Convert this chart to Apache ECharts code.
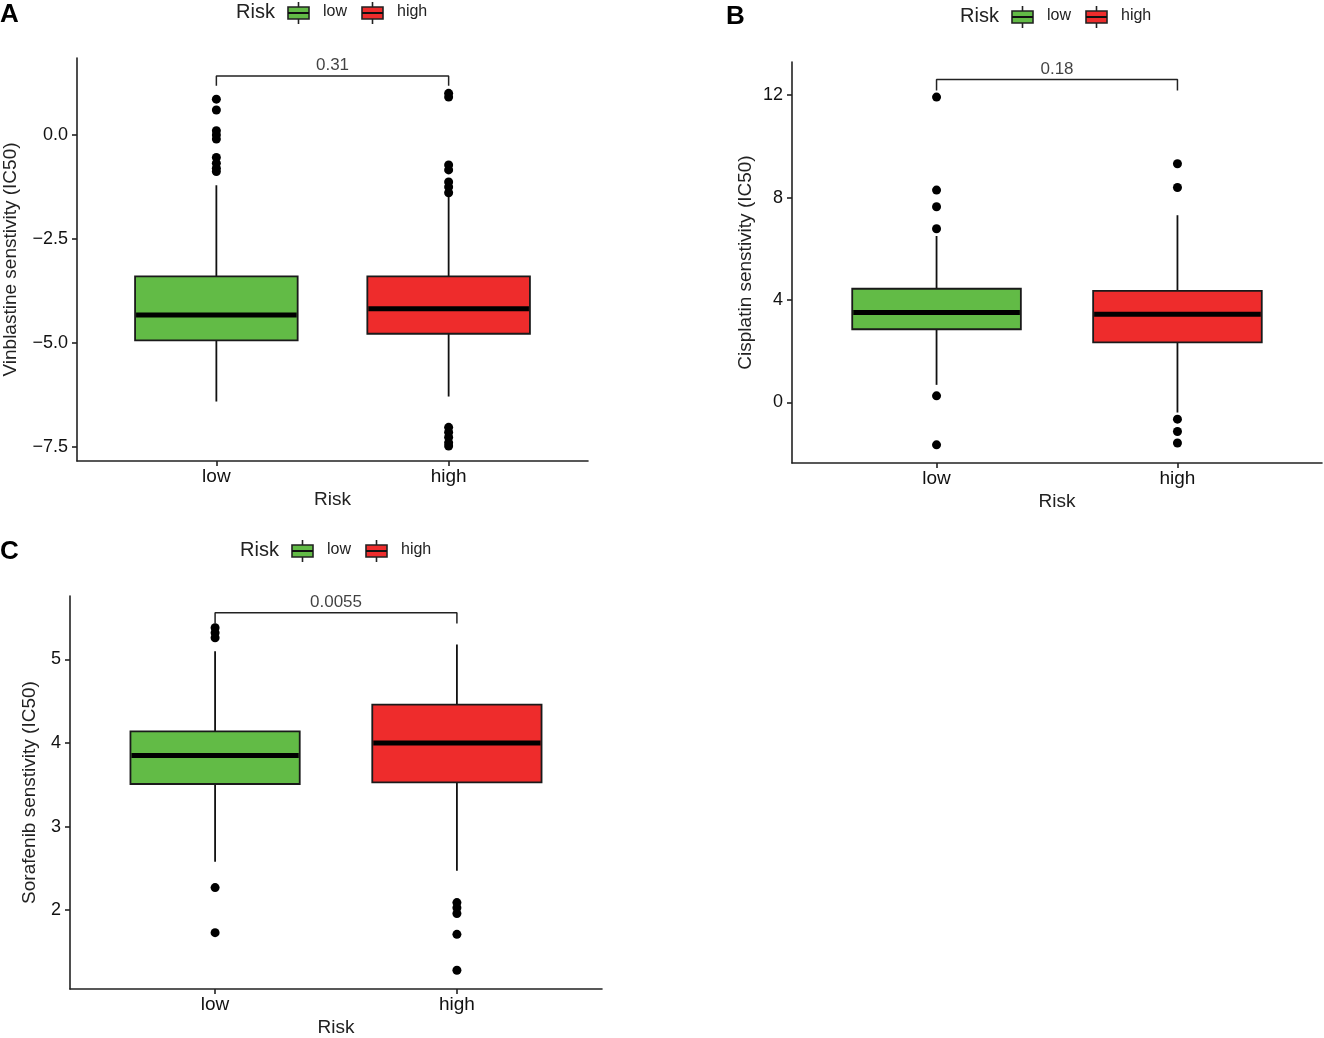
<!DOCTYPE html>
<html>
<head>
<meta charset="utf-8">
<script src="https://cdn.jsdelivr.net/npm/echarts@6/dist/echarts.min.js"></script>
<style>
html, body { margin: 0; padding: 0; background: #fff; }
#main { width: 1324px; height: 1038px; }
</style>
</head>
<body>
<div id="main"></div>
<script>
// categories and values
var categories = ['low', 'high'];
var boxColors = ['#62BB46', '#EE2C2C'];

// box stats: [min whisker, Q1, median, Q3, max whisker]
var vinLowBox  = [-6.41, -4.94, -4.33, -3.40, -1.21];
var vinHighBox = [-6.29, -4.78, -4.18, -3.40, -1.49];
var vinLowOut  = [0.86, 0.60, 0.10, 0.0, -0.10, -0.54, -0.68, -0.80, -0.88];
var vinHighOut = [1.00, 0.91, -0.72, -0.84, -1.13, -1.25, -1.39, -7.03, -7.15, -7.27, -7.40, -7.48];
var vinTicks = [-7.5, -5, -2.5, 0];

var cisLowBox  = [0.69, 2.86, 3.51, 4.44, 6.50];
var cisHighBox = [-0.39, 2.35, 3.45, 4.36, 7.31];
var cisLowOut  = [11.92, 8.29, 7.64, 6.78, 0.26, -1.65];
var cisHighOut = [9.32, 8.39, -0.65, -1.13, -1.58];
var cisTicks = [0, 4, 8, 12];

var sorLowBox  = [2.58, 3.51, 3.85, 4.14, 5.10];
var sorHighBox = [2.47, 3.53, 4.00, 4.46, 5.18];
var sorLowOut  = [5.38, 5.32, 5.26, 2.27, 1.73];
var sorHighOut = [2.09, 2.03, 1.96, 1.71, 1.28];
var sorTicks = [2, 3, 4, 5];

var pValues = ['0.31', '0.18', '0.0055'];
var bracketTop  = [1.42, 12.61, 5.56];
var bracketDrop = [1.18, 12.18, 5.43];

var panels = [
  { name: 'Vinblastine senstivity (IC50)', low: vinLowBox, high: vinHighBox, lowOut: vinLowOut, highOut: vinHighOut,
    ticks: vinTicks, min: -7.84, max: 1.85, dec: 1,
    grid: { left: 77, top: 58, width: 511, height: 403 }, nameGap: 57 },
  { name: 'Cisplatin senstivity (IC50)', low: cisLowBox, high: cisHighBox, lowOut: cisLowOut, highOut: cisHighOut,
    ticks: cisTicks, min: -2.36, max: 13.29, dec: 0,
    grid: { left: 792, top: 62, width: 530, height: 401 }, nameGap: 37 },
  { name: 'Sorafenib senstivity (IC50)', low: sorLowBox, high: sorHighBox, lowOut: sorLowOut, highOut: sorHighOut,
    ticks: sorTicks, min: 1.056, max: 5.76, dec: 0,
    grid: { left: 70, top: 596, width: 532, height: 396 }, nameGap: 31 }
];

function renderBox(params, api) {
  var x = api.value(0);
  var lo = api.coord([x, api.value(1)]);
  var q1 = api.coord([x, api.value(2)]);
  var md = api.coord([x, api.value(3)]);
  var q3 = api.coord([x, api.value(4)]);
  var hi = api.coord([x, api.value(5)]);
  var half = api.size([0.35, 0])[0];
  var color = api.visual('color');
  var ln = { stroke: '#111', lineWidth: 1.8 };
  return {
    type: 'group',
    children: [
      { type: 'line', shape: { x1: lo[0], y1: lo[1], x2: q1[0], y2: q1[1] }, style: ln },
      { type: 'line', shape: { x1: q3[0], y1: q3[1], x2: hi[0], y2: hi[1] }, style: ln },
      { type: 'rect', shape: { x: q3[0] - half, y: q3[1], width: half * 2, height: q1[1] - q3[1] },
        style: { fill: color, stroke: '#1a1a1a', lineWidth: 1.8 } },
      { type: 'line', shape: { x1: md[0] - half + 1, y1: md[1], x2: md[0] + half - 1, y2: md[1] },
        style: { stroke: '#000', lineWidth: 5 } }
    ]
  };
}

var grids = [], xAxes = [], yAxes = [], series = [];
panels.forEach(function (p, i) {
  grids.push(p.grid);
  xAxes.push({
    type: 'value', gridIndex: i, min: 0.4, max: 2.6,
    name: 'Risk', nameLocation: 'middle', nameGap: 29,
    nameTextStyle: { fontSize: 19, color: '#222' },
    axisLine: { onZero: false, lineStyle: { color: '#222', width: 1.6 } },
    axisTick: { customValues: [1, 2], length: 5, lineStyle: { color: '#222', width: 1.6 } },
    axisLabel: { customValues: [1, 2], margin: 6, fontSize: 19, color: '#111',
      formatter: function (v) { return categories[Math.round(v) - 1]; } },
    splitLine: { show: false }
  });
  yAxes.push({
    type: 'value', gridIndex: i, min: p.min, max: p.max,
    name: p.name, nameLocation: 'middle', nameGap: p.nameGap, nameRotate: 90,
    nameTextStyle: { fontSize: 19, color: '#222' },
    axisLine: { lineStyle: { color: '#222', width: 1.6 } },
    axisTick: { customValues: p.ticks, length: 5, lineStyle: { color: '#222', width: 1.6 } },
    axisLabel: { customValues: p.ticks, margin: 9, fontSize: 18, color: '#111',
      formatter: (function (dec) {
        return function (v) { return (v < 0 ? '\u2212' : '') + Math.abs(v).toFixed(dec); };
      })(p.dec) },
    splitLine: { show: false }
  });
  var boxes = [p.low, p.high].map(function (s, k) {
    return { value: [k + 1].concat(s), itemStyle: { color: boxColors[k] } };
  });
  series.push({
    type: 'custom', xAxisIndex: i, yAxisIndex: i, renderItem: renderBox,
    encode: { x: 0, y: [1, 5] }, data: boxes, z: 2
  });
  var outs = p.lowOut.map(function (v) { return [1, v]; })
    .concat(p.highOut.map(function (v) { return [2, v]; }));
  series.push({
    type: 'scatter', xAxisIndex: i, yAxisIndex: i, data: outs,
    symbol: 'circle', symbolSize: 9, itemStyle: { color: '#000', opacity: 1 }, z: 3
  });
  series.push({
    type: 'line', xAxisIndex: i, yAxisIndex: i, symbol: 'none',
    data: [[1, bracketDrop[i]], [1, bracketTop[i]], [2, bracketTop[i]], [2, bracketDrop[i]]],
    lineStyle: { color: '#222', width: 1.5 }, z: 3
  });
  series.push({
    type: 'scatter', xAxisIndex: i, yAxisIndex: i, symbolSize: 0,
    data: [[1.5, bracketTop[i]]],
    label: { show: true, position: 'top', distance: 2, fontSize: 17, color: '#111',
      formatter: pValues[i] }
  });
});

function legend(x0, yc) {
  var items = [
    { type: 'text', left: x0, top: yc - 11, style: { text: 'Risk', fontSize: 20, fill: '#222', fontFamily: 'Liberation Sans' } }
  ];
  [0, 1].forEach(function (k) {
    var kx = x0 + (k === 0 ? 52 : 126);
    items.push({ type: 'line', shape: { x1: kx + 10.5, y1: yc - 11, x2: kx + 10.5, y2: yc + 11 }, style: { stroke: '#222', lineWidth: 1.6 } });
    items.push({ type: 'rect', shape: { x: kx, y: yc - 6, width: 21, height: 12 }, style: { fill: boxColors[k], stroke: '#222', lineWidth: 1.6 } });
    items.push({ type: 'line', shape: { x1: kx, y1: yc, x2: kx + 21, y2: yc }, style: { stroke: '#111', lineWidth: 2 } });
    items.push({ type: 'text', left: x0 + (k === 0 ? 87 : 161), top: yc - 9,
      style: { text: categories[k], fontSize: 16, fill: '#222', fontFamily: 'Liberation Sans' } });
  });
  return items;
}

var graphics = []
  .concat(legend(236, 13))
  .concat(legend(960, 17))
  .concat(legend(240, 551))
  .concat([
    { type: 'text', left: 0, top: 2, style: { text: 'A', fontSize: 26, fontWeight: 'bold', fill: '#000', fontFamily: 'Liberation Sans' } },
    { type: 'text', left: 726, top: 4, style: { text: 'B', fontSize: 26, fontWeight: 'bold', fill: '#000', fontFamily: 'Liberation Sans' } },
    { type: 'text', left: 0, top: 539, style: { text: 'C', fontSize: 26, fontWeight: 'bold', fill: '#000', fontFamily: 'Liberation Sans' } }
  ]);

var option = {
  backgroundColor: '#fff',
  animation: false,
  textStyle: { fontFamily: 'Liberation Sans' },
  grid: grids,
  xAxis: xAxes,
  yAxis: yAxes,
  series: series,
  graphic: graphics
};

var myChart = echarts.init(document.getElementById('main'));
myChart.setOption(option);
</script>
</body>
</html>
